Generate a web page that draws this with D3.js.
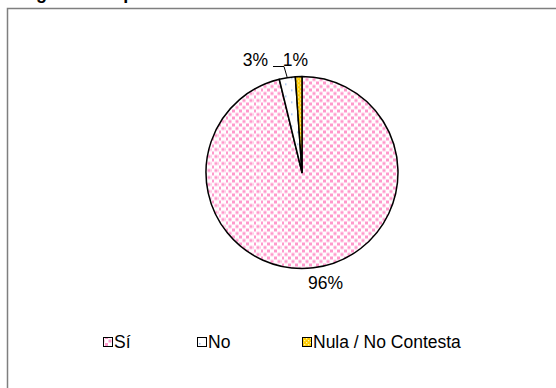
<!DOCTYPE html>
<html><head><meta charset="utf-8">
<script src="https://cdn.jsdelivr.net/npm/d3@7"></script>
<style>body{margin:0;background:#fff}svg{display:block}text{font-family:"Liberation Sans",Arial,sans-serif}</style>
</head><body>
<svg id="c" width="556" height="388"></svg>
<script>
const categories = ["Sí", "No", "Nula / No Contesta"];
const values = [96.2, 2.7, 1.1];
const labels = ["96%", "3%", "1%"];
const patternIds = ["patSi", "patNo", "patNula"];
const titleText = "Pregunta 1: Aprueba el acuerdo";

const svg = d3.select("#c");
const defs = svg.append("defs");

// Sí: pink dots
const p1 = defs.append("pattern").attr("id","patSi").attr("patternUnits","userSpaceOnUse").attr("width",7).attr("height",7);
p1.append("rect").attr("width",7).attr("height",7).attr("fill","#fff");
p1.append("rect").attr("x",0).attr("y",0).attr("width",3).attr("height",3).attr("fill","#ff99cc");
p1.append("rect").attr("x",3.5).attr("y",3.5).attr("width",3).attr("height",3).attr("fill","#ff99cc");
// No: white with sparse light blue dots
const p2 = defs.append("pattern").attr("id","patNo").attr("patternUnits","userSpaceOnUse").attr("width",12).attr("height",12);
p2.append("rect").attr("width",12).attr("height",12).attr("fill","#fff");
p2.append("rect").attr("x",1).attr("y",1).attr("width",1.5).attr("height",1.5).attr("fill","#99bbee");
p2.append("rect").attr("x",7).attr("y",7).attr("width",1.5).attr("height",1.5).attr("fill","#99bbee");
// Nula: yellow checker
const p3 = defs.append("pattern").attr("id","patNula").attr("patternUnits","userSpaceOnUse").attr("width",4).attr("height",4);
p3.append("rect").attr("width",4).attr("height",4).attr("fill","#ffcc00");
p3.append("rect").attr("x",0).attr("y",0).attr("width",1.3).attr("height",1.3).attr("fill","#fff3b0");
p3.append("rect").attr("x",2).attr("y",2).attr("width",1.3).attr("height",1.3).attr("fill","#fff3b0");

// Title (cut off at the top, as in the reference)
svg.append("text").attr("x",7).attr("y",-1).attr("font-weight","bold").attr("font-size",18).attr("fill","#000")
  .text(titleText);

// Frame
svg.append("rect").attr("x",7.5).attr("y",8.5).attr("width",560).attr("height",390)
  .attr("fill","none").attr("stroke","#7f7f7f").attr("stroke-width",1.5);

const cx = 302, cy = 172.5, r = 96;
const g = svg.append("g").attr("transform",`translate(${cx},${cy})`);
const pie = d3.pie().sort(null).value(d=>d)(values);
const arc = d3.arc().innerRadius(0).outerRadius(r);

g.selectAll("path.slice").data(pie).join("path").attr("class","slice")
  .attr("d",arc).attr("fill",(d,i)=>`url(#${patternIds[i]})`)
  .attr("stroke","#000").attr("stroke-width",1.5).attr("stroke-linejoin","round");

// Labels
const labelPos = [
  {x:325.5, y:289},
  {x:255.5, y:66},
  {x:295.5, y:66}
];
labelPos.forEach((p,i)=>{
  svg.append("text").attr("x",p.x).attr("y",p.y).attr("text-anchor","middle")
    .attr("font-size",17.5).attr("fill","#000").text(labels[i]);
});
// leader line for 3%
const midNo = (pie[1].startAngle+pie[1].endAngle)/2;
const ex = cx + Math.sin(midNo)*r, ey = cy - Math.cos(midNo)*r;
svg.append("path").attr("d",`M273,66.5H284L${ex},${ey}`).attr("fill","none").attr("stroke","#000").attr("stroke-width",1);

// Legend
const legendX = [103, 197, 302];
const lg = svg.append("g");
categories.forEach((c,i)=>{
  lg.append("rect").attr("x",legendX[i]+0.5).attr("y",337.5).attr("width",9).attr("height",9)
    .attr("fill",`url(#${patternIds[i]})`).attr("stroke","#000").attr("stroke-width",1);
  lg.append("text").attr("x",legendX[i]+11).attr("y",347.5).attr("font-size",17.5).attr("fill","#000").text(c);
});
</script>
</body></html>
